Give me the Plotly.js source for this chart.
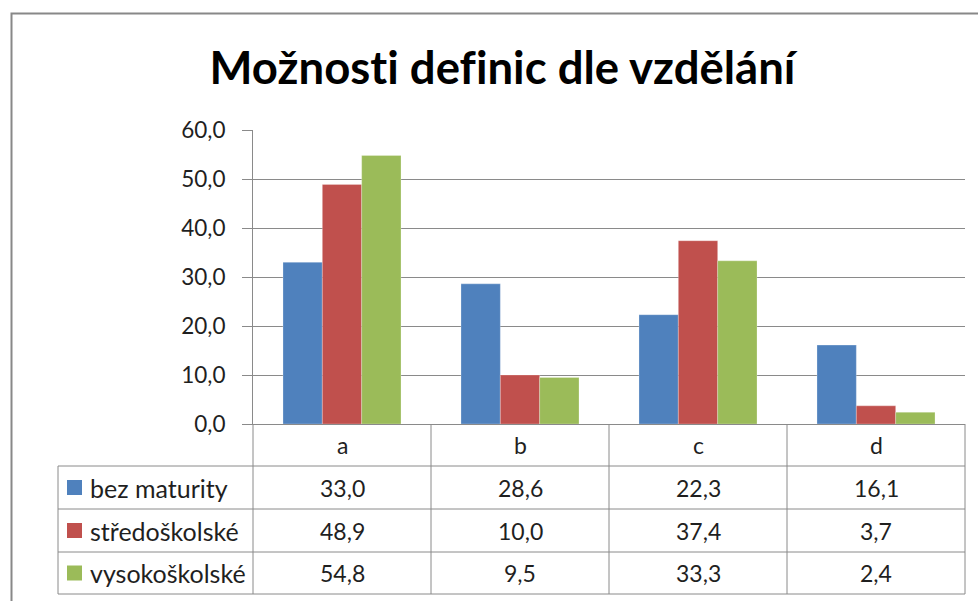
<!DOCTYPE html>
<html>
<head>
<meta charset="utf-8">
<script src="https://cdn.plot.ly/plotly-3.0.1.min.js"></script>
<style>
html,body{margin:0;padding:0;background:#fff;}
#chart{width:978px;height:601px;}
#chart text{font-variant-ligatures:none;font-feature-settings:"liga" 0,"clig" 0;}
</style>
</head>
<body>
<div id="chart"></div>
<script>
const categories = ['a', 'b', 'c', 'd'];
const seriesNames = ['bez maturity', 'středoškolské', 'vysokoškolské'];
const bezMaturity = [33.0, 28.6, 22.3, 16.1];
const stredoskolske = [48.9, 10.0, 37.4, 3.7];
const vysokoskolske = [54.8, 9.5, 33.3, 2.4];
const yTickValues = [0, 10, 20, 30, 40, 50, 60];
const seriesColors = ['#4F81BD', '#C0504D', '#9BBB59'];
const chartTitle = 'Možnosti definic dle vzdělání';

const seriesValues = [bezMaturity, stredoskolske, vysokoskolske];
const fmt = v => v.toFixed(1).replace('.', ',');

// plot-area geometry in pixels
const W = 978, H = 601;
const L = 253, R = 965, T = 130, B = 424;
const px = x => (x - L) / (R - L);
const py = y => (B - y) / (B - T);

const FONT = 'Lato, "Open Sans", sans-serif';
const GRID = '#8a8a8a';
const TXT = '#1f1f1f';

const traces = seriesNames.map((name, i) => ({
  type: 'bar',
  name: name,
  x: categories,
  y: seriesValues[i],
  marker: {color: seriesColors[i], line: {color: 'rgba(255,255,255,0.5)', width: 0.5}},
  showlegend: false,
  hoverinfo: 'x+y+name'
}));

const shapes = [];
const annotations = [];
const line = (x0, y0, x1, y1) => shapes.push({
  type: 'line', xref: 'paper', yref: 'paper',
  x0: px(x0), y0: py(y0), x1: px(x1), y1: py(y1),
  line: {color: GRID, width: 1}
});

// outer chart border (top and left visible)
shapes.push({type: 'rect', xref: 'paper', yref: 'paper',
  x0: px(11.5), y0: py(13.5), x1: px(990), y1: py(615),
  line: {color: '#888888', width: 2}, fillcolor: 'rgba(0,0,0,0)'});

// data table lines
const tableLeft = 58;
const headerBottom = 466;
const rowBounds = [466, 509, 552, 594];
const colW = (R - L) / categories.length;
for (let k = 0; k <= categories.length; k++) {
  const x = L + k * colW;
  line(x, B, x, rowBounds[rowBounds.length - 1]);
}
line(tableLeft, headerBottom, tableLeft, rowBounds[rowBounds.length - 1]);
rowBounds.forEach(y => line(tableLeft, y, R, y));

// category headers
categories.forEach((c, i) => {
  annotations.push({xref: 'x', yref: 'paper', x: c, y: py((B + headerBottom) / 2),
    text: c, showarrow: false, font: {family: FONT, size: 23, color: TXT},
    xanchor: 'center', yanchor: 'middle'});
});

// series rows
seriesNames.forEach((name, r) => {
  const yc = (rowBounds[r] + rowBounds[r + 1]) / 2;
  shapes.push({type: 'rect', xref: 'paper', yref: 'paper',
    x0: px(67), x1: px(82), y0: py(yc - 7.5), y1: py(yc + 7.5),
    line: {width: 0}, fillcolor: seriesColors[r]});
  annotations.push({xref: 'paper', yref: 'paper', x: px(88), y: py(yc),
    text: name, showarrow: false, font: {family: FONT, size: 25, color: TXT},
    xanchor: 'left', yanchor: 'middle'});
  categories.forEach((c, i) => {
    annotations.push({xref: 'x', yref: 'paper', x: c, y: py(yc),
      text: fmt(seriesValues[r][i]), showarrow: false,
      font: {family: FONT, size: 23, color: TXT},
      xanchor: 'center', yanchor: 'middle'});
  });
});

const layout = {
  width: W, height: H,
  margin: {l: L, r: W - R, t: T, b: H - B},
  paper_bgcolor: '#ffffff', plot_bgcolor: '#ffffff',
  barmode: 'group', bargap: 0.337, bargroupgap: 0,
  title: {text: chartTitle, font: {family: FONT, size: 45.5, color: '#000000', weight: 'bold'},
    x: 502.5 / W, xanchor: 'center', xref: 'container',
    y: 1 - 68 / H, yanchor: 'middle', yref: 'container'},
  xaxis: {type: 'category', showticklabels: false, ticks: '', showgrid: false,
    showline: true, linecolor: GRID, linewidth: 1, zeroline: false, fixedrange: true},
  yaxis: {range: [0, 60], tickvals: yTickValues, ticktext: yTickValues.map(fmt),
    ticks: 'outside', ticklen: 10, tickcolor: GRID, tickwidth: 1,
    showgrid: true, gridcolor: GRID, gridwidth: 1,
    showline: true, linecolor: GRID, linewidth: 1, zeroline: false,
    ticklabelstandoff: 12,
    tickfont: {family: FONT, size: 22.5, color: TXT}, fixedrange: true},
  shapes: shapes,
  annotations: annotations
};

Plotly.newPlot('chart', traces, layout, {displayModeBar: false, staticPlot: true});
</script>
</body>
</html>
